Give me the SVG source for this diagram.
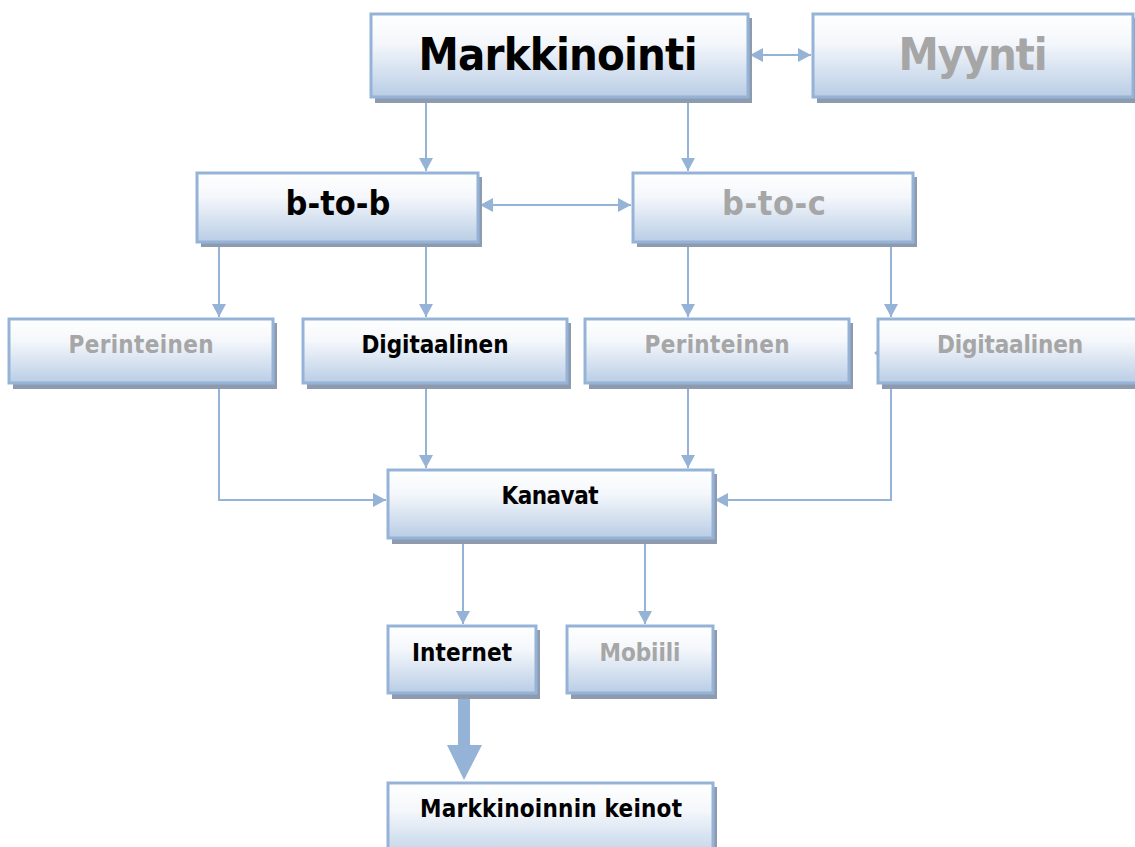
<svg xmlns="http://www.w3.org/2000/svg" width="1135" height="847" viewBox="0 0 1135 847">
<style>
.box{fill:url(#g);stroke:#95b3d7;stroke-width:3}
.sh{fill:#8e9bae}
.t{font-family:"DejaVu Sans Condensed","DejaVu Sans",Verdana,sans-serif;font-weight:bold;text-anchor:middle}
.k{fill:#000}
.gr{fill:#a6a6a6}
.c{fill:none;stroke:#95b3d7;stroke-width:2}
</style>
<defs>
<linearGradient id="g" x1="0" y1="0" x2="0" y2="1">
<stop offset="0" stop-color="#ffffff"/>
<stop offset="0.35" stop-color="#f4f7fb"/>
<stop offset="1" stop-color="#b9cde5"/>
</linearGradient>
<marker id="a" markerUnits="userSpaceOnUse" markerWidth="16" markerHeight="16" refX="13" refY="8" orient="auto-start-reverse">
<path d="M0,1 L13,8 L0,15 Z" fill="#95b3d7"/>
</marker>
</defs>
<rect width="1135" height="847" fill="#fff"/>
<g id="connectors">
<line class="c" x1="750" y1="55" x2="811" y2="55" marker-start="url(#a)" marker-end="url(#a)"/>
<line class="c" x1="426" y1="98" x2="426" y2="171" marker-end="url(#a)"/>
<line class="c" x1="688" y1="98" x2="688" y2="171" marker-end="url(#a)"/>
<line class="c" x1="480" y1="205" x2="631" y2="205" marker-start="url(#a)" marker-end="url(#a)"/>
<line class="c" x1="219" y1="244" x2="219" y2="317" marker-end="url(#a)"/>
<line class="c" x1="426" y1="244" x2="426" y2="317" marker-end="url(#a)"/>
<line class="c" x1="688" y1="244" x2="688" y2="317" marker-end="url(#a)"/>
<line class="c" x1="891" y1="244" x2="891" y2="317" marker-end="url(#a)"/>
<path d="M880,348 L874,353 L880,358 Z" fill="#95b3d7"/>
<polyline class="c" points="219,385 219,500 386,500" marker-end="url(#a)"/>
<line class="c" x1="426" y1="385" x2="426" y2="468" marker-end="url(#a)"/>
<line class="c" x1="688" y1="385" x2="688" y2="468" marker-end="url(#a)"/>
<polyline class="c" points="891,385 891,500 715,500" marker-end="url(#a)"/>
<line class="c" x1="463" y1="540" x2="463" y2="624" marker-end="url(#a)"/>
<line class="c" x1="645" y1="540" x2="645" y2="624" marker-end="url(#a)"/>
<path d="M458,694 L470,694 L470,745 L482,745 L464,780 L447,745 L458,745 Z" fill="#95b3d7"/>
</g>
<g id="n-markkinointi">
<rect class="sh" x="375" y="18" width="377" height="85"/>
<rect class="box" x="371" y="14" width="377" height="83"/>
<text class="t k" x="558" y="70" font-size="45" textLength="279">Markkinointi</text>
</g>
<g id="n-myynti">
<rect class="sh" x="817" y="18" width="330" height="85"/>
<rect class="box" x="813" y="14" width="320" height="83"/>
<text class="t gr" x="973" y="70" font-size="45" textLength="149">Myynti</text>
</g>
<g id="n-btob">
<rect class="sh" x="201" y="177" width="281" height="70"/>
<rect class="box" x="197" y="173" width="281" height="69"/>
<text class="t k" x="338" y="215" font-size="34" textLength="105">b-to-b</text>
</g>
<g id="n-btoc">
<rect class="sh" x="637" y="177" width="280" height="70"/>
<rect class="box" x="633" y="173" width="280" height="69"/>
<text class="t gr" x="774" y="215" font-size="34" textLength="104">b-to-c</text>
</g>
<g id="n-perinteinen1">
<rect class="sh" x="13" y="323" width="264" height="66"/>
<rect class="box" x="9" y="319" width="264" height="64"/>
<text class="t gr" x="141" y="353" font-size="24" textLength="145">Perinteinen</text>
</g>
<g id="n-digitaalinen1">
<rect class="sh" x="307" y="323" width="264" height="66"/>
<rect class="box" x="303" y="319" width="264" height="64"/>
<text class="t k" x="435" y="353" font-size="24" textLength="147">Digitaalinen</text>
</g>
<g id="n-perinteinen2">
<rect class="sh" x="589" y="323" width="264" height="66"/>
<rect class="box" x="585" y="319" width="264" height="64"/>
<text class="t gr" x="717" y="353" font-size="24" textLength="145">Perinteinen</text>
</g>
<g id="n-digitaalinen2">
<rect class="sh" x="882" y="323" width="270" height="66"/>
<rect class="box" x="878" y="319" width="270" height="64"/>
<text class="t gr" x="1010" y="353" font-size="24" textLength="146">Digitaalinen</text>
</g>
<g id="n-kanavat">
<rect class="sh" x="392" y="474" width="325" height="70"/>
<rect class="box" x="388" y="470" width="325" height="68"/>
<text class="t k" x="550" y="504" font-size="24" textLength="97">Kanavat</text>
</g>
<g id="n-internet">
<rect class="sh" x="392" y="630" width="148" height="69"/>
<rect class="box" x="388" y="626" width="148" height="67"/>
<text class="t k" x="462" y="661" font-size="24" textLength="100">Internet</text>
</g>
<g id="n-mobiili">
<rect class="sh" x="571" y="630" width="146" height="69"/>
<rect class="box" x="567" y="626" width="146" height="67"/>
<text class="t gr" x="640" y="661" font-size="24" textLength="81">Mobiili</text>
</g>
<g id="n-keinot">
<rect class="sh" x="392" y="787" width="325" height="80"/>
<rect class="box" x="388" y="783" width="325" height="80"/>
<text class="t k" x="551" y="817" font-size="24" textLength="262">Markkinoinnin keinot</text>
</g>
</svg>
